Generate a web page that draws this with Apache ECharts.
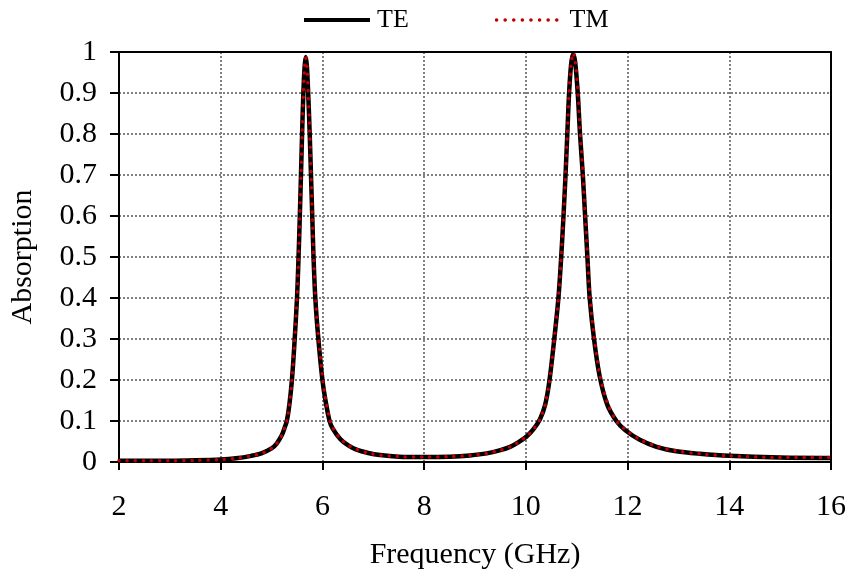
<!DOCTYPE html>
<html>
<head>
<meta charset="utf-8">
<script src="https://cdn.jsdelivr.net/npm/echarts@6/dist/echarts.min.js"></script>
<style>html,body{margin:0;padding:0;background:#fff}#c{width:851px;height:578px}</style>
</head>
<body>
<div id="c"></div>
<script>
var freq = [2.0,2.5,3.0,3.5,4.0,4.3,4.6,4.8,5.0,5.1,5.2,5.26,5.30,5.35,5.40,5.45,5.50,5.525,5.553,5.578,5.60,5.625,5.65,5.672,5.695,5.72,5.75,5.775,5.80,5.825,5.86,5.92,6.00,6.06,6.14,6.20,6.35,6.5,6.67,6.9,7.13,7.5,8.0,8.5,8.9,9.23,9.5,9.69,9.85,10.02,10.15,10.28,10.38,10.46,10.55,10.64,10.69,10.74,10.78,10.815,10.85,10.89,10.93,10.97,11.02,11.065,11.12,11.165,11.21,11.255,11.34,11.45,11.60,11.78,11.95,12.24,12.57,12.96,13.42,14.0,15.0,16.0];
var teValues = [0.003,0.003,0.003,0.004,0.006,0.009,0.015,0.021,0.033,0.045,0.065,0.085,0.10,0.14,0.20,0.29,0.40,0.48,0.59,0.70,0.80,0.90,0.965,0.988,0.965,0.90,0.80,0.70,0.60,0.50,0.40,0.30,0.20,0.15,0.10,0.082,0.056,0.041,0.030,0.022,0.017,0.013,0.012,0.013,0.016,0.021,0.029,0.037,0.048,0.063,0.080,0.105,0.14,0.195,0.29,0.40,0.49,0.60,0.70,0.80,0.90,0.97,0.995,0.975,0.90,0.80,0.70,0.60,0.50,0.40,0.30,0.21,0.14,0.10,0.078,0.054,0.037,0.026,0.020,0.015,0.011,0.010];
var tmValues = [0.003,0.003,0.003,0.004,0.006,0.009,0.015,0.021,0.033,0.045,0.065,0.085,0.10,0.14,0.20,0.29,0.40,0.48,0.59,0.70,0.80,0.90,0.965,0.986,0.968,0.905,0.81,0.71,0.61,0.51,0.41,0.31,0.21,0.155,0.105,0.084,0.057,0.042,0.031,0.022,0.017,0.013,0.012,0.013,0.016,0.021,0.029,0.037,0.048,0.063,0.080,0.105,0.14,0.195,0.29,0.40,0.49,0.60,0.70,0.80,0.90,0.97,0.998,0.98,0.91,0.81,0.71,0.61,0.51,0.41,0.31,0.215,0.145,0.10,0.08,0.055,0.038,0.027,0.020,0.015,0.011,0.011];
var xTicks = ['2','4','6','8','10','12','14','16'];
var yTicks = ['0','0.1','0.2','0.3','0.4','0.5','0.6','0.7','0.8','0.9','1'];

function pairs(xs, ys){ return xs.map(function(x,i){ return [x, ys[i]]; }); }

var FONT = '"Liberation Serif", "Times New Roman", serif';
var frameAxis = {
  show: true,
  axisLine: {show: true, onZero: false, lineStyle: {color: '#000', width: 2}},
  axisTick: {show: false}, axisLabel: {show: false}, splitLine: {show: false}
};
var chart = echarts.init(document.getElementById('c'), null, {renderer:'canvas'});
chart.setOption({
  animation: false,
  backgroundColor: '#fff',
  legend: {
    left: 297, top: 2,
    itemWidth: 66, itemHeight: 14, itemGap: 86,
    itemStyle: {opacity: 0},
    textStyle: {fontFamily: FONT, fontSize: 26, color: '#000', padding: [0,0,0,2]},
    data: [
      {name: 'TE', lineStyle: {color: '#000', width: 4}},
      {name: 'TM', lineStyle: {color: '#c00000', width: 3.5, type: [0.1, 8.5], cap: 'round'}}
    ]
  },
  grid: {left: 119, right: 20, top: 52, bottom: 116, containLabel: false},
  xAxis: [{
    type: 'value', min: 2, max: 16, interval: 2,
    name: 'Frequency (GHz)', nameLocation: 'middle', nameGap: 78,
    nameTextStyle: {fontFamily: FONT, fontSize: 30, color: '#000'},
    axisLine: {show: true, onZero: false, lineStyle: {color: '#000', width: 2}},
    axisTick: {show: true, inside: false, length: 8, lineStyle: {color: '#000', width: 2}},
    axisLabel: {fontFamily: FONT, fontSize: 30, color: '#000', margin: 30,
      formatter: function(v){ var i = Math.round((v-2)/2); return xTicks[i] || ''; }},
    splitLine: {show: true, lineStyle: {color: '#808080', width: 2, type: [2,2]}}
  }, Object.assign({type: 'value', position: 'top', min: 2, max: 16, interval: 2}, frameAxis)],
  yAxis: [{
    type: 'value', min: 0, max: 1, interval: 0.1,
    name: 'Absorption', nameLocation: 'middle', nameGap: 81,
    nameTextStyle: {fontFamily: FONT, fontSize: 30, color: '#000'},
    axisLine: {show: true, lineStyle: {color: '#000', width: 2}},
    axisTick: {show: true, inside: false, length: 9, lineStyle: {color: '#000', width: 2}},
    axisLabel: {fontFamily: FONT, fontSize: 30, color: '#000', margin: 22,
      formatter: function(v){ var i = Math.round(v*10); return yTicks[i] || ''; }},
    splitLine: {show: true, lineStyle: {color: '#808080', width: 2, type: [2,2]}}
  }, Object.assign({type: 'value', position: 'right', min: 0, max: 1, interval: 0.1}, frameAxis)],
  series: [
    {name: 'TE', type: 'line', data: pairs(freq, teValues), symbol: 'none', smooth: 0.3,
     lineStyle: {color: '#000', width: 4.5}, itemStyle: {color: '#000'}, z: 2},
    {name: 'TM', type: 'line', data: pairs(freq, tmValues), symbol: 'none', smooth: 0.3,
     lineStyle: {color: '#c00000', width: 3.5, type: [0.1, 8], cap: 'round'}, itemStyle: {color: '#c00000'}, z: 3}
  ]
});
</script>
</body>
</html>
